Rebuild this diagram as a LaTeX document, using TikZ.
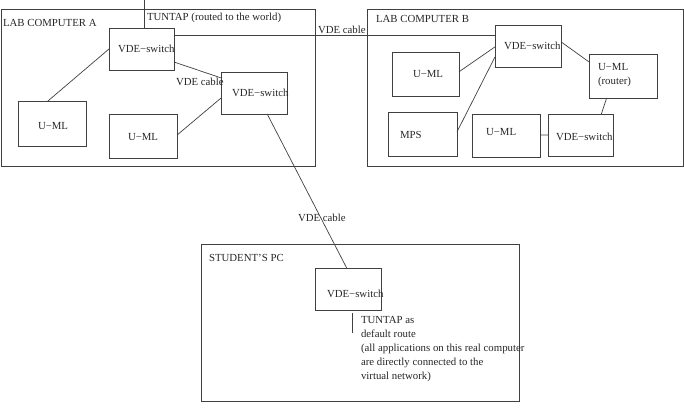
\documentclass[tikz,border=0pt]{standalone}
\usepackage{fontspec}
\setmainfont{Liberation Serif}
\usetikzlibrary{calc}
\definecolor{lc}{gray}{0.25}
\tikzset{
  box/.style={draw=lc, line width=0.7pt, inner sep=0pt, outer sep=0pt, anchor=north west},
  txt/.style={anchor=base west, inner sep=0pt, outer sep=0pt, text=black!85},
  wire/.style={draw=lc, line width=0.7pt},
}
\begin{document}
\begin{tikzpicture}[x=1pt, y=-1pt, font=\fontsize{10.8}{13.8}\selectfont]
\useasboundingbox (0,0) rectangle (684,408);
% containers
\node[box, minimum width=314pt, minimum height=156.5pt] (labA) at (1,9.5) {};
\node[box, minimum width=316pt, minimum height=157pt] (labB) at (367,9) {};
\node[box, minimum width=318pt, minimum height=157pt] (pc) at (201,244) {};
% lab A
\node[box, minimum width=65pt, minimum height=42pt] (a1) at (109,28) {};
\node[box, minimum width=66pt, minimum height=42pt] (a2) at (221,72) {};
\node[box, minimum width=68pt, minimum height=45pt] (uA1) at (18,101) {};
\node[box, minimum width=68pt, minimum height=44pt] (uA2) at (109,114) {};
% lab B
\node[box, minimum width=66pt, minimum height=42pt] (b1) at (495,25) {};
\node[box, minimum width=67pt, minimum height=44pt] (uB1) at (392,52) {};
\node[box, minimum width=69pt, minimum height=44pt] (mps) at (388,112) {};
\node[box, minimum width=68pt, minimum height=43pt] (uB2) at (472,114) {};
\node[box, minimum width=65pt, minimum height=42pt] (b2) at (548,114) {};
\node[box, minimum width=68pt, minimum height=44pt] (rt) at (589,54) {};
% student
\node[box, minimum width=66pt, minimum height=42pt] (s) at (315,268) {};
% texts
\node[txt] (tlabA) at (3,26) {LAB COMPUTER A};
\node[txt] (tworld) at (147,20.5) {TUNTAP (routed to the world)};
\node[txt] (tcab1) at (318,33.5) {VDE cable};
\node[txt] (ta1) at (118,52) {VDE−switch};
\node[txt] (tcab2) at (176,85.6) {VDE cable};
\node[txt] (ta2) at (232,96) {VDE−switch};
\node[txt] (tuA1) at (38,129.6) {U−ML};
\node[txt] (tuA2) at (128,140.6) {U−ML};
\node[txt] (tlabB) at (376,22.6) {LAB COMPUTER B};
\node[txt] (tb1) at (504,49) {VDE−switch};
\node[txt] (tuB1) at (413,77.6) {U−ML};
\node[txt] (tmps) at (400,138.6) {MPS};
\node[txt] (tuB2) at (486,135.6) {U−ML};
\node[txt] (tb2) at (556,140.6) {VDE−switch};
\node[txt] (trt1) at (598,70.6) {U−ML};
\node[txt] (trt2) at (598,84.2) {(router)};
\node[txt] (tcab3) at (298,221.6) {VDE cable};
\node[txt] (tpc) at (209,261.6) {STUDENT’S PC};
\node[txt] (ts) at (327,297.6) {VDE−switch};
\node[anchor=north west, inner sep=0pt, outer sep=0pt, align=left, text=black!85] (ttap) at (361,316.8)
  {TUNTAP as\\default route\\(all applications on this real computer\\are directly connected to the\\virtual network)};
% connectors
\coordinate (world) at (144,0);
\draw[wire] (world) -- (world |- a1.north);
\draw[wire] ($(a1.north east)!0.18!(a1.south east)$) -- ($(b1.north west)!0.25!(b1.south west)$);
\draw[wire] ($(a1.north east)!0.81!(a1.south east)$) -- ($(a2.north west)!0.14!(a2.south west)$);
\draw[wire] ($(uA1.north west)!0.44!(uA1.north east)$) -- ($(a1.north west)!0.5!(a1.south west)$);
\draw[wire] ($(uA2.north east)!0.48!(uA2.south east)$) -- ($(a2.north west)!0.62!(a2.south west)$);
\draw[wire] ($(a2.south west)!0.70!(a2.south east)$) -- ($(s.north west)!0.48!(s.north east)$);
\draw[wire] ($(uB1.north east)!0.45!(uB1.south east)$) -- ($(b1.north west)!0.52!(b1.south west)$);
\draw[wire] ($(mps.north east)!0.45!(mps.south east)$) -- ($(b1.north west)!0.76!(b1.south west)$);
\draw[wire] ($(uB2.north east)!0.49!(uB2.south east)$) -- ($(b2.north west)!0.5!(b2.south west)$);
\draw[wire] ($(b1.north east)!0.40!(b1.south east)$) -- ($(rt.north west)!0.18!(rt.south west)$);
\draw[wire] ($(rt.south west)!0.26!(rt.south east)$) -- ($(b2.north west)!0.82!(b2.north east)$);
\coordinate (tap) at (352,313);
\draw[wire] (tap) -- ++(0,20);
\end{tikzpicture}
\end{document}
